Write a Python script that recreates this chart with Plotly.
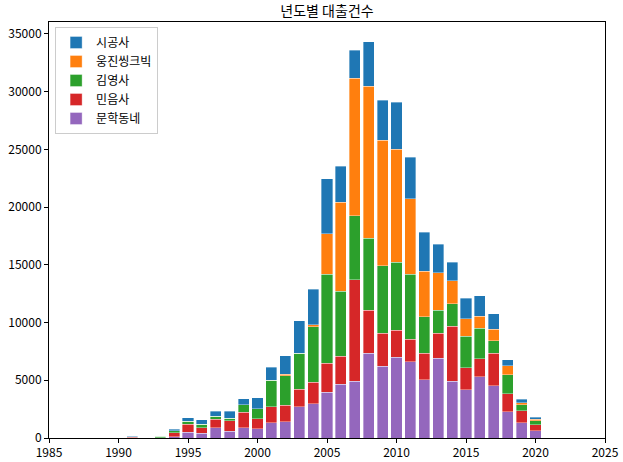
import plotly.graph_objects as go

years = list(range(1991, 2021))

# 문학동네 (bottom of stack)
munhak = [0, 0, 0, 90, 490, 430, 900, 600, 900, 810,
          1330, 1415, 2715, 2975, 3955, 4675, 4910, 7330, 6235, 7015,
          6600, 5050, 6930, 4905, 4185, 5310, 4530, 2280, 1330, 635]
# 민음사
minum = [60, 0, 30, 350, 690, 460, 720, 900, 1330, 870,
         1385, 1415, 1500, 1875, 2510, 2425, 8805, 3750, 2860, 2340,
         1960, 2280, 2165, 4760, 1905, 1560, 2800, 1560, 1010, 520]
# 김영사
gimyoung = [40, 0, 120, 200, 260, 290, 260, 230, 635, 870,
            2280, 2570, 3120, 4790, 7710, 5600, 5540, 6235, 5830, 5860,
            5640, 3175, 1990, 1960, 2715, 2655, 1095, 1645, 550, 345]
# 웅진씽크빅
woongjin = [20, 0, 0, 0, 0, 0, 0, 0, 0, 0,
            0, 115, 0, 175, 3520, 7735, 11920, 13160, 10880, 9815,
            6530, 3925, 3235, 1990, 1530, 1010, 1010, 780, 145, 115]
# 시공사 (top of stack)
sigong = [30, 0, 50, 115, 320, 400, 430, 580, 550, 950,
          1125, 1590, 2830, 3060, 4760, 3120, 2425, 3840, 3435, 4070,
          3610, 3405, 2455, 1590, 1760, 1790, 1330, 520, 320, 175]

series = [
    ("문학동네", munhak, "#9467bd"),
    ("민음사", minum, "#d62728"),
    ("김영사", gimyoung, "#2ca02c"),
    ("웅진씽크빅", woongjin, "#ff7f0e"),
    ("시공사", sigong, "#1f77b4"),
]

FONT = "Noto Sans CJK KR, DejaVu Sans, sans-serif"

fig = go.Figure()
for name, vals, color in series:
    fig.add_trace(go.Bar(
        x=years, y=vals, name=name,
        marker=dict(color=color, line=dict(color="rgba(255,255,255,0.6)", width=0.6)),
    ))

axis_common = dict(
    showline=True, linecolor="black", linewidth=1, mirror=True,
    ticks="outside", ticklen=4, tickcolor="black",
    showgrid=False, zeroline=False, automargin=False,
    tickfont=dict(size=12, color="black"),
)

fig.update_layout(
    barmode="stack",
    bargap=0.2,
    width=623, height=462,
    margin=dict(l=49, r=18, t=22, b=24),
    plot_bgcolor="white",
    paper_bgcolor="white",
    font=dict(family=FONT, color="black"),
    title=dict(text="년도별 대출건수", x=0.5, xref="paper", xanchor="center",
               y=1 - 11 / 462, yanchor="middle", font=dict(size=14)),
    xaxis=dict(range=[1985, 2025], tickvals=list(range(1985, 2026, 5)), **axis_common),
    yaxis=dict(range=[0, 36036], tickvals=list(range(0, 35001, 5000)),
               tickformat="d", **axis_common),
    legend=dict(
        x=0.011, y=0.988, xanchor="left", yanchor="top",
        traceorder="reversed",
        bgcolor="rgba(255,255,255,0.8)", bordercolor="#cccccc", borderwidth=1,
        font=dict(size=12),
    ),
)

# page body has a default 8px margin; drop it so the figure fills the window
fig.write_html("out.html", config={"displayModeBar": False},
               post_script="document.body.style.margin='0';")
